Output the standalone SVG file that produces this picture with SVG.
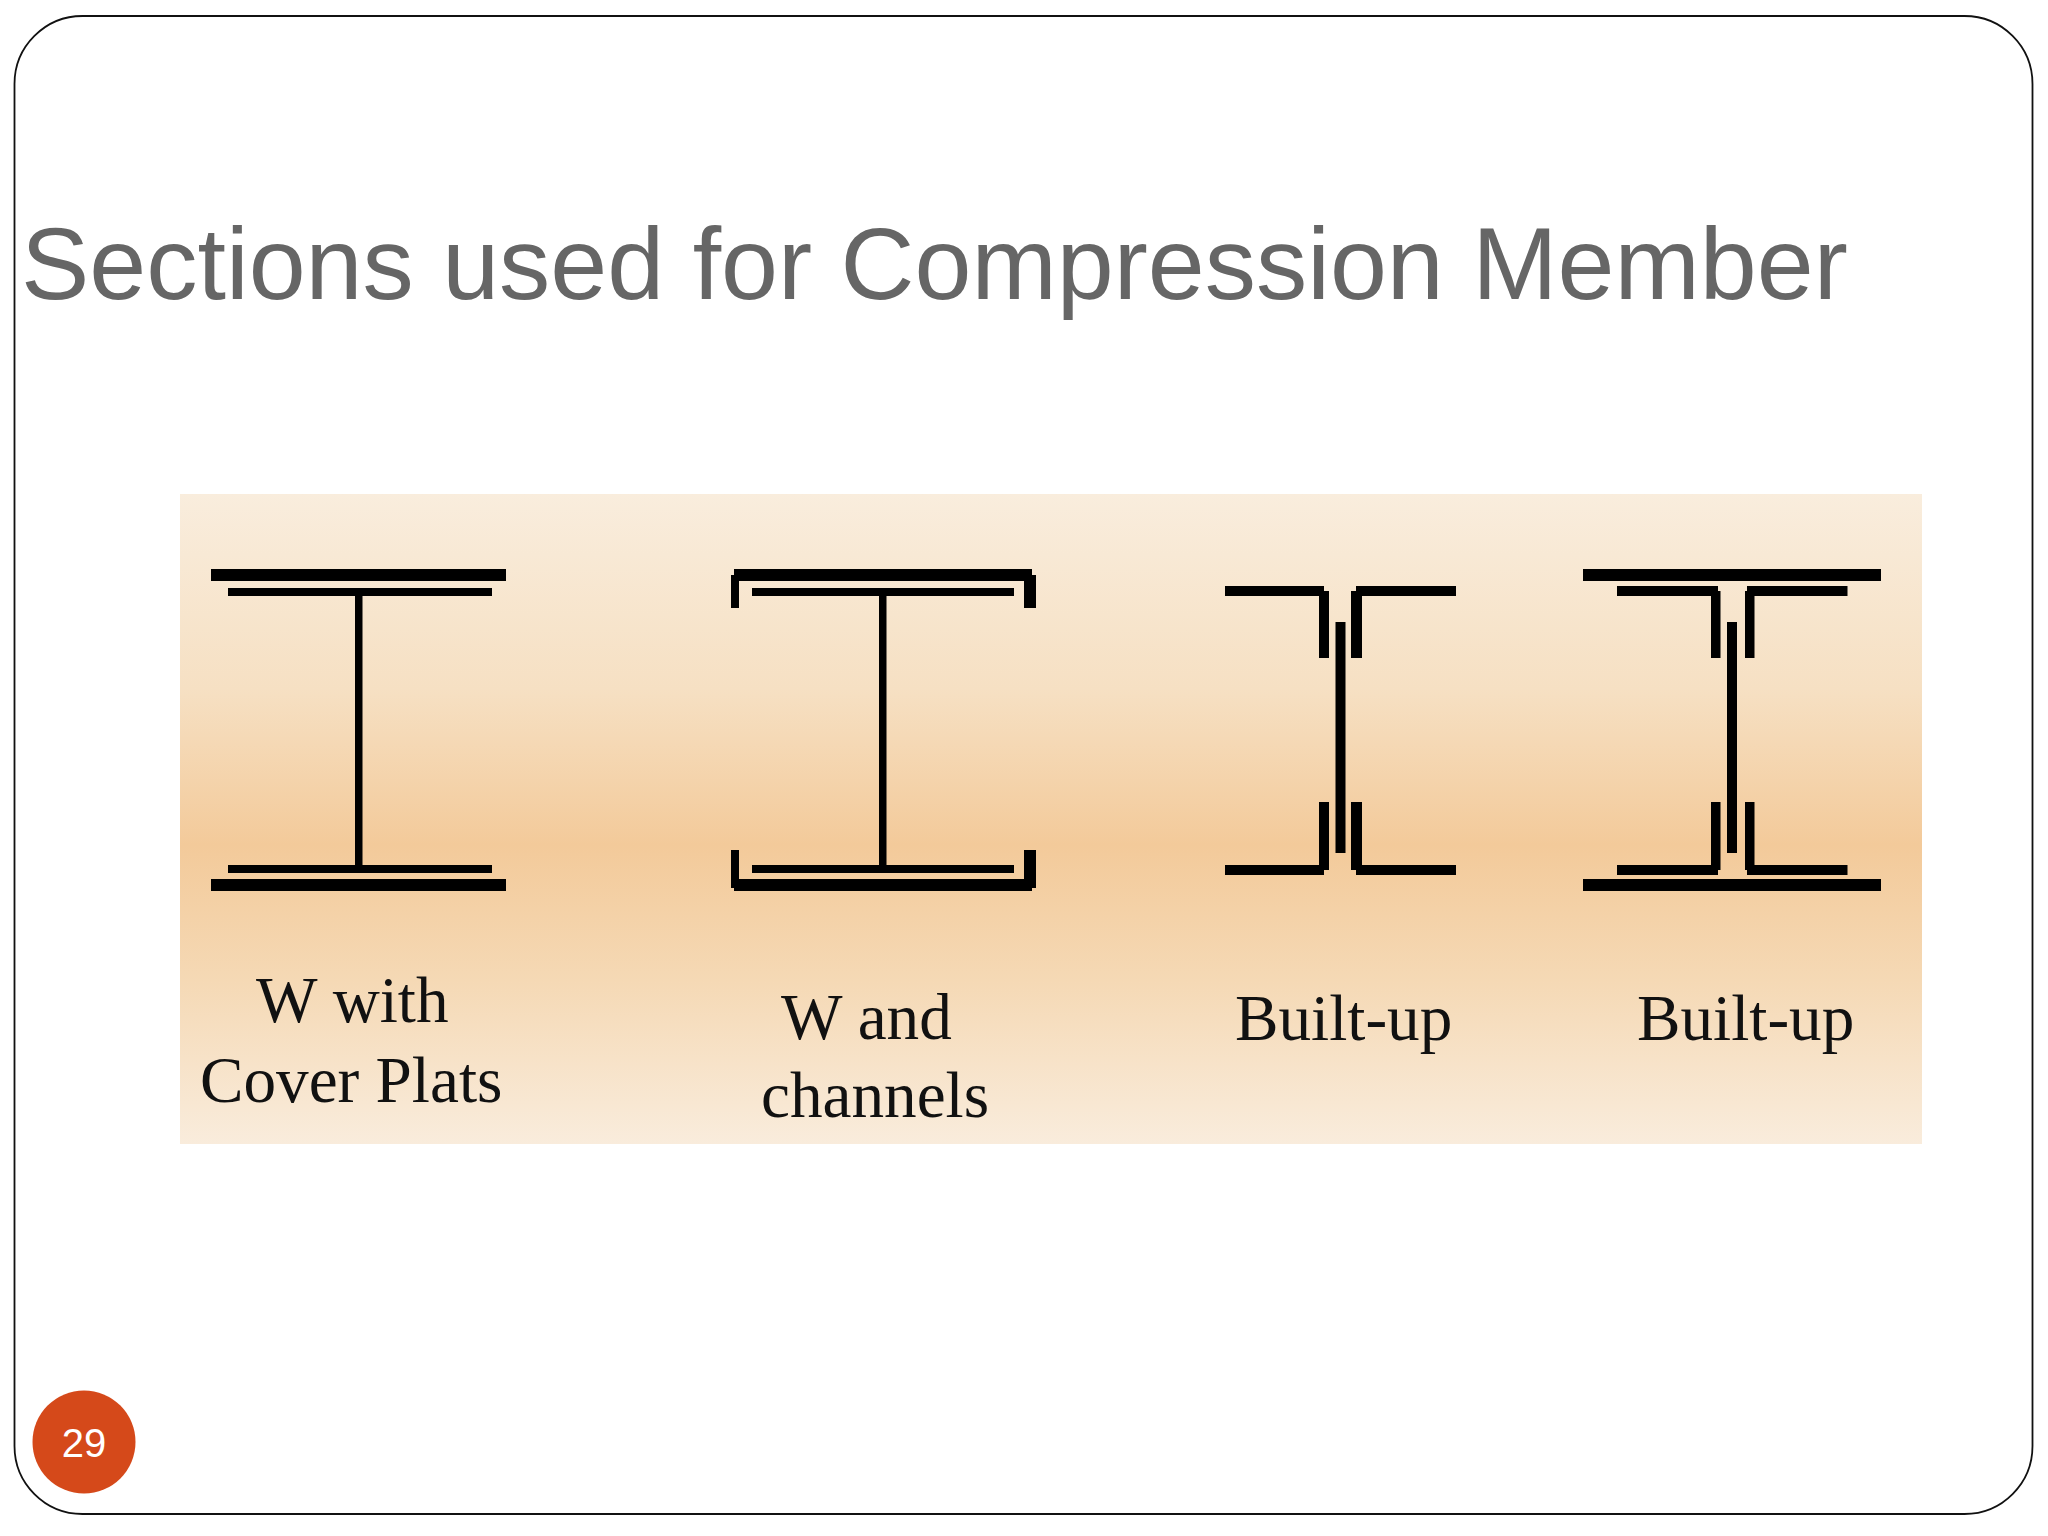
<svg xmlns="http://www.w3.org/2000/svg" width="2048" height="1536" viewBox="0 0 2048 1536">
<style>
.s{fill:#000}
.l{font-family:"Liberation Serif","Times New Roman",serif;font-size:65.2px;fill:#111}
</style>
<defs>
<linearGradient id="g" x1="0" y1="0" x2="0" y2="1">
<stop offset="0" stop-color="#f9eddd"/>
<stop offset="0.3" stop-color="#f6e0c3"/>
<stop offset="0.54" stop-color="#f3ca9a"/>
<stop offset="0.75" stop-color="#f5d9b5"/>
<stop offset="1" stop-color="#f9ecdc"/>
</linearGradient>
</defs>
<rect width="2048" height="1536" fill="#fff"/>
<rect id="frame" x="14.5" y="16" width="2018" height="1498" rx="68" ry="68" fill="#fff" stroke="#111" stroke-width="1.8"/>
<text id="title" x="21" y="299" font-family="'Liberation Sans',Arial,sans-serif" font-size="102.4" fill="#666">Sections used for Compression Member</text>
<rect id="panel" x="180" y="494" width="1742" height="650" fill="url(#g)"/>
<g id="section-1" class="s">
<rect x="211" y="569" width="295" height="12"/>
<rect x="228" y="588" width="264" height="8"/>
<rect x="355" y="596" width="7.5" height="269"/>
<rect x="228" y="865" width="264" height="8"/>
<rect x="211" y="879" width="295" height="12"/>
<text class="l" x="256" y="1022">W with</text>
<text class="l" x="200" y="1102">Cover Plats</text>
</g>
<g id="section-2" class="s">
<rect x="734" y="569" width="298" height="12"/>
<rect x="731" y="575" width="8" height="33"/>
<rect x="1024" y="575" width="12" height="33"/>
<rect x="752" y="588" width="262" height="8"/>
<rect x="879" y="596" width="7.5" height="269"/>
<rect x="752" y="865" width="262" height="8"/>
<rect x="731" y="850" width="8" height="38"/>
<rect x="1024" y="850" width="12" height="38"/>
<rect x="734" y="879" width="298" height="12"/>
<text class="l" x="781" y="1039">W and</text>
<text class="l" x="761" y="1117">channels</text>
</g>
<g id="section-3" class="s">
<rect x="1225" y="586" width="99" height="10"/>
<rect x="1319" y="591" width="10" height="67"/>
<rect x="1351" y="591" width="11" height="67"/>
<rect x="1356" y="586" width="100" height="10"/>
<rect x="1335.500" y="622" width="10" height="231"/>
<rect x="1319" y="802" width="10" height="68"/>
<rect x="1351" y="802" width="11" height="68"/>
<rect x="1225" y="865" width="99" height="10"/>
<rect x="1356" y="865" width="100" height="10"/>
<text class="l" x="1235" y="1040">Built-up</text>
</g>
<g id="section-4" class="s">
<rect x="1583" y="569" width="298" height="12"/>
<rect x="1617" y="586" width="101" height="10"/>
<rect x="1711" y="591" width="9.500" height="67"/>
<rect x="1745" y="591" width="9.500" height="67"/>
<rect x="1747" y="586" width="100.500" height="10"/>
<rect x="1727" y="622" width="10" height="231"/>
<rect x="1711" y="802" width="9.500" height="68"/>
<rect x="1745" y="802" width="9.500" height="68"/>
<rect x="1617" y="865" width="101" height="10"/>
<rect x="1747" y="865" width="100.500" height="10"/>
<rect x="1583" y="879" width="298" height="12"/>
<text class="l" x="1637" y="1040">Built-up</text>
</g>
<g id="connectors"/>
<g id="page-number">
<circle cx="84" cy="1442" r="51.500" fill="#d5491a"/>
<text x="84" y="1456.500" text-anchor="middle" font-family="'Liberation Sans',Arial,sans-serif" font-size="40" fill="#fff">29</text>
</g>
</svg>
